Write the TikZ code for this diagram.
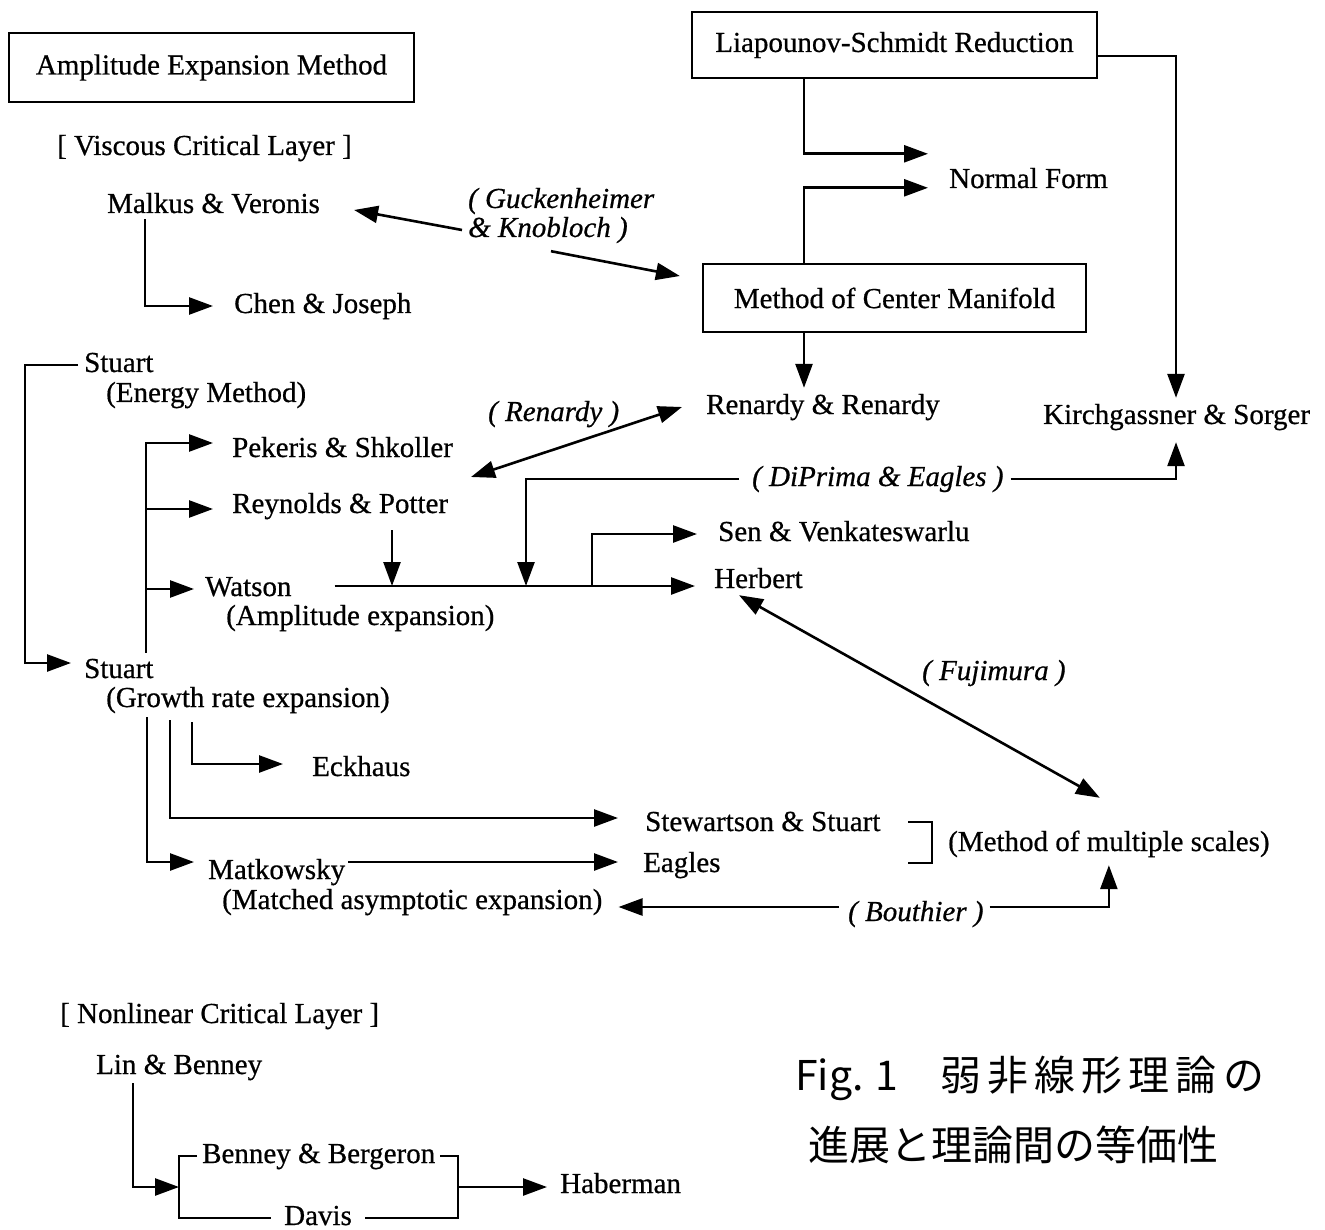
\documentclass[tikz,border=0pt]{standalone}
\usepackage{fontspec}
\setmainfont[FakeBold=0.6]{Liberation Serif}
\newfontfamily\cjk{Noto Sans CJK JP}
\newfontfamily\cjkw[LetterSpace=15]{Noto Sans CJK JP}
\usetikzlibrary{arrows.meta,calc}
\newcommand\fsz{\fontsize{29}{30}\selectfont}
\begin{document}
\begin{tikzpicture}[x=1pt,y=-1pt,
  txt/.style={anchor=base west, inner sep=0pt, text height=20pt, text depth=6pt, font=\fsz},
  itxt/.style={txt, font=\fsz\itshape},
  box/.style={draw, line width=2.2pt, inner sep=0pt, font=\fsz, anchor=center},
  ln/.style={line width=2.6pt},
  arr/.style={ln, -{Triangle[length=24pt,width=17pt]}},
  arr2/.style={ln, {Triangle[length=24pt,width=17pt]}-{Triangle[length=24pt,width=17pt]}},
  captxt/.style={anchor=base west, inner sep=0pt, font=\cjk\fontsize{41}{44}\selectfont}
]
\fill[white] (0,0) rectangle (1325,1230);
\useasboundingbox (0,0) rectangle (1325,1230);

% boxes
\node[box, minimum width=405pt, minimum height=69pt] (amp) at (211.5,67.5) {Amplitude Expansion Method};
\node[box, minimum width=405pt, minimum height=66pt] (ls) at (894.5,45) {Liapounov-Schmidt Reduction};
\node[box, minimum width=383pt, minimum height=68pt] (mcm) at (894.5,298) {Method of Center Manifold};

% texts
\node[txt] (viscous) at (57,155) {[ Viscous Critical Layer ]};
\node[txt] (malkus) at (107,213) {Malkus \& Veronis};
\node[itxt] (guck1) at (468,208) {( Guckenheimer};
\node[itxt] (guck2) at (468,237) {\& Knobloch )};
\node[txt] (chen) at (234,313) {Chen \& Joseph};
\node[txt] (normal) at (949,188) {Normal Form};
\node[txt] (renardy2) at (706,414) {Renardy \& Renardy};
\node[txt] (kirch) at (1043,424) {Kirchgassner \& Sorger};
\node[itxt] (renlabel) at (488,421) {( Renardy )};
\node[txt] (stuartE) at (84,372) {Stuart};
\node[txt] (energy) at (106,402) {(Energy Method)};
\node[txt] (pekeris) at (232,457) {Pekeris \& Shkoller};
\node[txt] (reynolds) at (232,513) {Reynolds \& Potter};
\node[itxt] (diprima) at (752,486) {( DiPrima \& Eagles )};
\node[txt] (sen) at (718,541) {Sen \& Venkateswarlu};
\node[txt] (watson) at (205,596) {Watson};
\node[txt] (amplexp) at (226,625) {(Amplitude expansion)};
\node[txt] (herbert) at (714,588) {Herbert};
\node[itxt] (fujimura) at (922,680) {( Fujimura )};
\node[txt] (stuartG) at (84,678) {Stuart};
\node[txt] (growth) at (106,707) {(Growth rate expansion)};
\node[txt] (eckhaus) at (312,776) {Eckhaus};
\node[txt] (stewartson) at (645,831) {Stewartson \& Stuart};
\node[txt] (eagles) at (643,872) {Eagles};
\node[txt] (mms) at (948,851) {(Method of multiple scales)};
\node[txt] (matkowsky) at (208,879) {Matkowsky};
\node[txt] (matched) at (222,909) {(Matched asymptotic expansion)};
\node[itxt] (bouthier) at (848,921) {( Bouthier )};
\node[txt] (nonlinear) at (60,1023) {[ Nonlinear Critical Layer ]};
\node[txt] (lin) at (96,1074) {Lin \& Benney};
\node[txt] (benney) at (202,1163) {Benney \& Bergeron};
\node[txt] (davis) at (284,1225) {Davis};
\node[txt] (haberman) at (560,1193) {Haberman};

% caption
\node[captxt] (fig) at (795,1090) {Fig. 1};
\node[captxt, font=\cjkw\fontsize{41}{44}\selectfont] (jp1) at (940,1090) {弱非線形理論の};
\node[captxt] (jp2) at (808,1160) {進展と理論間の等価性};

% coordinates
\coordinate (renL) at (471,477);
\coordinate (jD) at (526,586);
\coordinate (jS) at (592,586);
\coordinate (brL) at (179,1187);
\coordinate (brR) at (458,1187);
\coordinate (wl) at ([shift={(43pt,3pt)}]watson.east);
\coordinate (rtop) at ([shift={(160pt,-11pt)}]reynolds.south west);
\coordinate (gtop) at ([shift={(62pt,5pt)}]stuartG.north west);

% viscous section
\draw[arr] ([xshift=38pt]malkus.south west) |- ([xshift=-21pt]chen.west);
\draw[arr] ([xshift=-6pt]guck2.west) -- ([shift={(34pt,-4pt)}]malkus.east);
\draw[arr] ([shift={(83pt,-8pt)}]guck2.south west) -- ([shift={(-22pt,22pt)}]mcm.west);

\draw[arr] ([xshift=-90.5pt]ls.south) |- ([shift={(-21pt,14pt)}]normal.north west);
\draw[arr] ([xshift=-90.5pt]mcm.north) |- ([shift={(-21pt,-20pt)}]normal.north west);
\draw[arr] ([yshift=-11pt]ls.east) -| ([shift={(133pt,6pt)}]kirch.north west);
\draw[arr] ([xshift=-90.5pt]mcm.south) -- ([shift={(98pt,6pt)}]renardy2.north west);

\draw[arr2] (renL) -- ([xshift=-24pt]renardy2.west);

\draw[arr] ([xshift=7pt]diprima.east) -| ([shift={(133pt,-12pt)}]kirch.south west);
\draw[arr] ([xshift=-13pt]diprima.west) -| (jD);

\draw[arr] (rtop) -- (rtop |- wl);
\draw[arr, shorten >=19pt] (wl) -- (wl -| herbert.west);
\draw[arr] (jS) |- ([xshift=-21pt]sen.west);

\draw[arr2] ([shift={(25pt,-1pt)}]herbert.south west) -- ([shift={(-9pt,33pt)}]mms.north);

% Stuart
\draw[arr] ([xshift=-6pt]stuartE.west) -- ++(-53,0) |- ([shift={(-13pt,8pt)}]stuartG.west);
\draw[arr] (gtop) |- ([shift={(-19pt,7pt)}]pekeris.west);
\draw[arr] (gtop) |- ([shift={(-19pt,-3pt)}]reynolds.west);
\draw[arr] (gtop) |- ([xshift=-11pt]watson.west);

\draw[arr] ([shift={(41pt,-4pt)}]growth.south west) |- ([shift={(-14pt,10pt)}]matkowsky.west);
\draw[arr] ([shift={(64pt,-7pt)}]growth.south west) |- ([shift={(-27pt,6pt)}]stewartson.west);
\draw[arr] ([shift={(86pt,-9pt)}]growth.south west) |- ([shift={(-29pt,5pt)}]eckhaus.west);
\draw[arr] ([shift={(3pt,10pt)}]matkowsky.east) -- ([shift={(-25pt,3pt)}]eagles.west);

% bracket
\draw[ln] ([shift={(-40pt,22pt)}]mms.west) -| ([shift={(-16pt,-19pt)}]mms.west) -- ([shift={(-40pt,-19pt)}]mms.west);

% Bouthier
\draw[arr] ([shift={(6pt,7pt)}]bouthier.east) -| ([yshift=-8pt]mms.south);
\draw[arr, shorten >=16pt] ([shift={(-9pt,7pt)}]bouthier.west) coordinate (bl) -- (bl -| matched.east);

% nonlinear
\draw[arr] ([shift={(37pt,-3pt)}]lin.south west) |- (brL);
\draw[ln] ([xshift=-5pt]benney.west) -| (brL) |- ([xshift=-13pt]davis.west);
\draw[ln] ([xshift=5pt]benney.east) -| (brR) |- ([xshift=13pt]davis.east);
\draw[arr, shorten >=13pt] (brR) -- (brR -| haberman.west);
\end{tikzpicture}
\end{document}
